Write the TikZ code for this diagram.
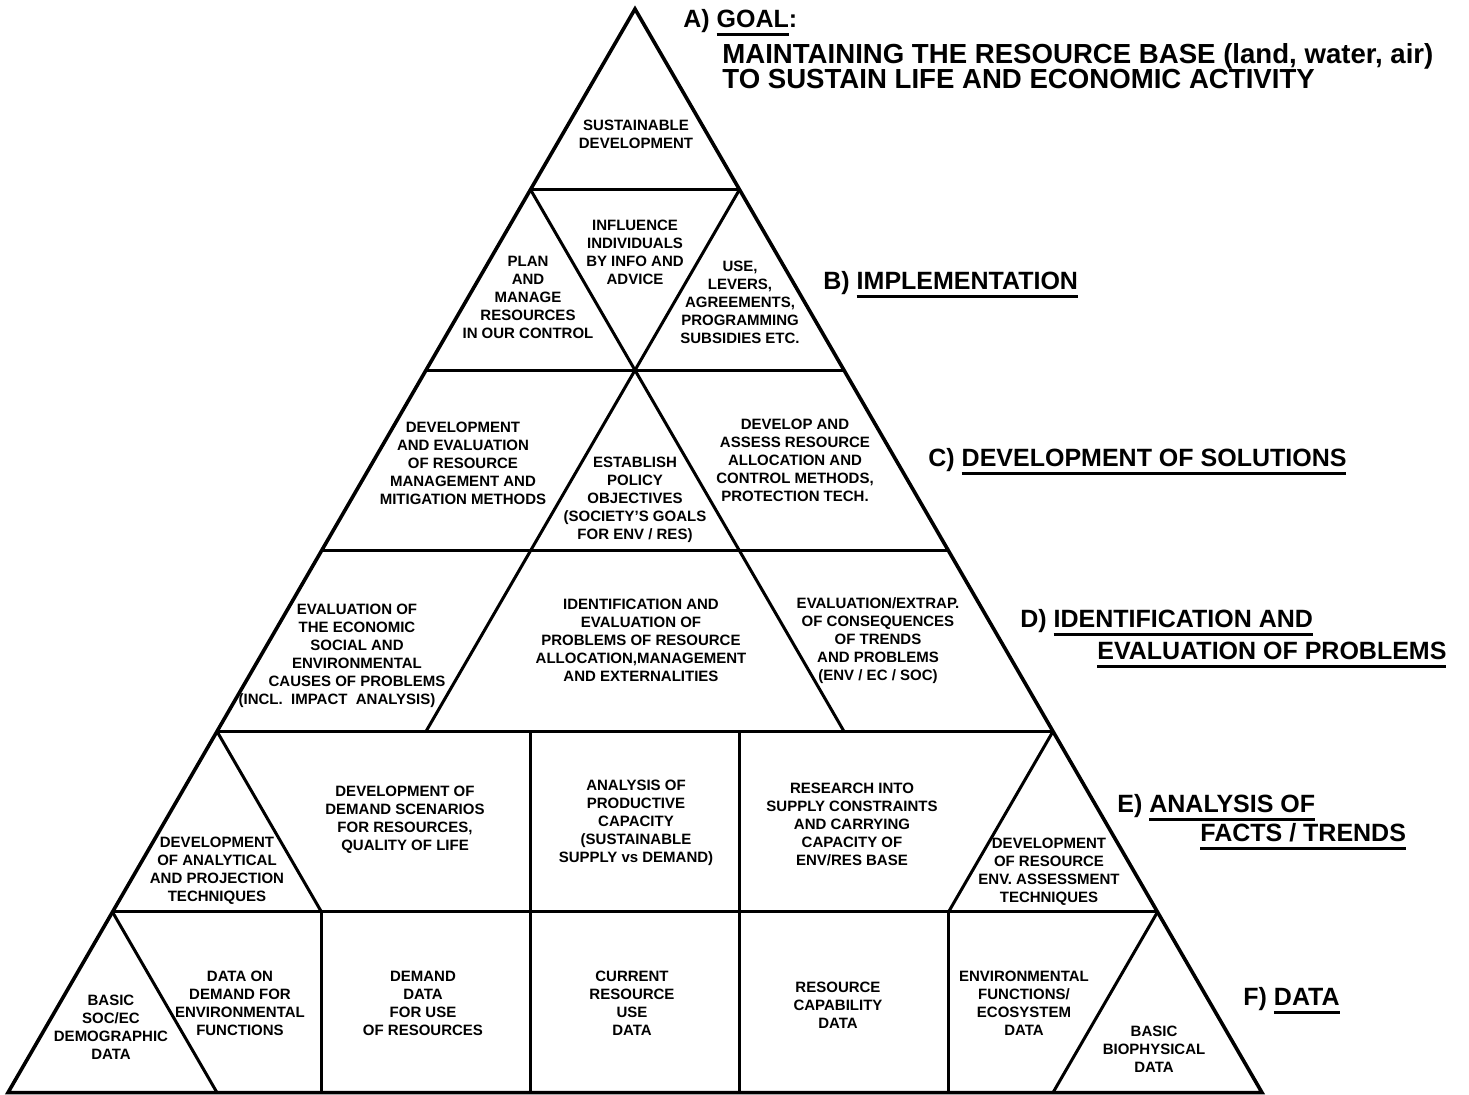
\documentclass[tikz,border=0pt]{standalone}
\usepackage{fontspec}
\setmainfont{Liberation Sans}
\usetikzlibrary{calc}

% underlined heading word
\newcommand{\ulword}[1]{\setbox0\hbox{#1}\rlap{\rule[-4pt]{\wd0}{1.3pt}}\box0}

\begin{document}
\begin{tikzpicture}[
    x=0.5pt, y=-0.5pt,
    frame/.style={line width=1.8pt, line join=miter},
    edge/.style={line width=1.5pt},
    cell/.style={align=center, inner sep=0pt, font=\bfseries\fontsize{7.5}{9}\selectfont},
    level/.style={anchor=base west, inner sep=0pt, font=\bfseries\fontsize{12.5}{15}\selectfont},
    goal/.style={anchor=base west, align=left, inner sep=0pt, font=\bfseries\fontsize{13.8}{12.5}\selectfont}
]
\useasboundingbox (0,0) rectangle (1469,1095);

% Grid points
\foreach \k in {0,...,6} {
  \foreach \j in {0,...,\k} {
    \coordinate (p\k\j) at ({635+104.5*(2*\j-\k)}, {9+180.6*\k});
  }
}

% Pyramid
\draw[frame] (p00) -- (p60) -- (p66) -- cycle;
\foreach \k in {1,...,5} \draw[edge] (p\k0) -- (p\k\k);
\draw[edge] (p10) -- (p43);
\draw[edge] (p11) -- (p41);
\draw[edge] (p40) -- (p51);
\draw[edge] (p44) -- (p54);
\draw[edge] (p50) -- (p61);
\draw[edge] (p55) -- (p65);
\draw[edge] (p52 |- p40) -- (p52 |- p60);
\draw[edge] (p53 |- p40) -- (p53 |- p60);
\draw[edge] (p51) -- (p51 |- p60);
\draw[edge] (p54) -- (p54 |- p60);

% Nodes
\node[cell] (sustain) at (636,134) {SUSTAINABLE\\DEVELOPMENT};
\node[cell] (plan) at (528,297) {PLAN\\AND\\MANAGE\\RESOURCES\\IN OUR CONTROL};
\node[cell] (influence) at (635,252) {INFLUENCE\\INDIVIDUALS\\BY INFO AND\\ADVICE};
\node[cell] (levers) at (740,302) {USE,\\LEVERS,\\AGREEMENTS,\\PROGRAMMING\\SUBSIDIES ETC.};
\node[cell] (mitigate) at (463,463) {DEVELOPMENT\\AND EVALUATION\\OF RESOURCE\\MANAGEMENT AND\\MITIGATION METHODS};
\node[cell] (policy) at (635,500) {ESTABLISH\\POLICY\\OBJECTIVES\\(SOCIETY'S GOALS\\FOR ENV / RES)};
\node[cell] (control) at (795,460) {DEVELOP AND\\ASSESS RESOURCE\\ALLOCATION AND\\CONTROL METHODS,\\PROTECTION TECH.};
\node[cell] (causes) at (357,656) {EVALUATION OF\\THE ECONOMIC\\SOCIAL AND\\ENVIRONMENTAL\\CAUSES OF PROBLEMS\\(INCL.\ \ IMPACT\ \ ANALYSIS)\hspace*{20pt}};
\node[cell] (problems) at (641,640) {IDENTIFICATION AND\\EVALUATION OF\\PROBLEMS OF RESOURCE\\ALLOCATION,MANAGEMENT\\AND EXTERNALITIES};
\node[cell] (trends) at (878,641) {EVALUATION/EXTRAP.\\OF CONSEQUENCES\\OF TRENDS\\AND PROBLEMS\\(ENV / EC / SOC)};
\node[cell] (analytic) at (217,871) {DEVELOPMENT\\OF ANALYTICAL\\AND PROJECTION\\TECHNIQUES};
\node[cell] (scenario) at (405,820) {DEVELOPMENT OF\\DEMAND SCENARIOS\\FOR RESOURCES,\\QUALITY OF LIFE};
\node[cell] (capacity) at (636,823) {ANALYSIS OF\\PRODUCTIVE\\CAPACITY\\(SUSTAINABLE\\SUPPLY vs DEMAND)};
\node[cell] (supply) at (852,824) {RESEARCH INTO\\SUPPLY CONSTRAINTS\\AND CARRYING\\CAPACITY OF\\ENV/RES BASE};
\node[cell] (assess) at (1049,872) {DEVELOPMENT\\OF RESOURCE\\ENV. ASSESSMENT\\TECHNIQUES};
\node[cell] (socec) at (111,1027) {BASIC\\SOC/EC\\DEMOGRAPHIC\\DATA};
\node[cell] (envdemand) at (240,1003) {DATA ON\\DEMAND FOR\\ENVIRONMENTAL\\FUNCTIONS};
\node[cell] (usedemand) at (423,1003) {DEMAND\\DATA\\FOR USE\\OF RESOURCES};
\node[cell] (current) at (632,1003) {CURRENT\\RESOURCE\\USE\\DATA};
\node[cell] (capability) at (838,1005) {RESOURCE\\CAPABILITY\\DATA};
\node[cell] (ecosystem) at (1024,1003) {ENVIRONMENTAL\\FUNCTIONS/\\ECOSYSTEM\\DATA};
\node[cell] (biophys) at (1154,1049) {BASIC\\BIOPHYSICAL\\DATA};

% Level headings
\node[level] (goal) at (683,28) {A) \ulword{GOAL}:};
\node[goal] (goaltext) at (722,89) {MAINTAINING THE RESOURCE BASE (land, water, air)\\TO SUSTAIN LIFE AND ECONOMIC ACTIVITY};
\node[level] (impl) at (823,290) {B) \ulword{IMPLEMENTATION}};
\node[level] (solutions) at (928,467) {C) \ulword{DEVELOPMENT OF SOLUTIONS}};
\node[level] (ident) at (1020,628) {D) \ulword{IDENTIFICATION AND}};
\node[level] (identb) at (1097,660) {\ulword{EVALUATION OF PROBLEMS}};
\node[level] (facts) at (1117,813) {E) \ulword{ANALYSIS OF}};
\node[level] (factsb) at (1200,842) {\ulword{FACTS / TRENDS}};
\node[level] (data) at (1243,1006) {F) \ulword{DATA}};

\end{tikzpicture}
\end{document}
